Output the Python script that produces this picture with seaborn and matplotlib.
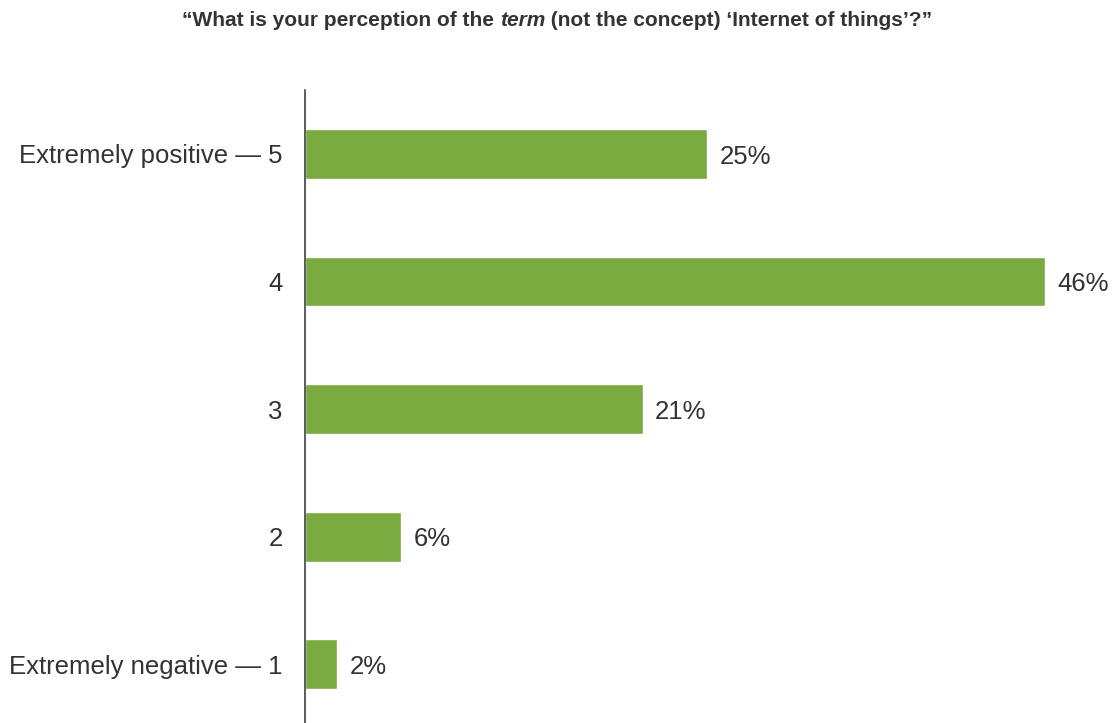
import matplotlib
matplotlib.use("Agg")
import matplotlib.pyplot as plt
import seaborn as sns
import pandas as pd
from matplotlib.offsetbox import TextArea, HPacker, AnchoredOffsetbox

categories = ["Extremely positive — 5", "4", "3", "2", "Extremely negative — 1"]
values = [25, 46, 21, 6, 2]
value_labels = ["25%", "46%", "21%", "6%", "2%"]

sns.set_style("white")
plt.rcParams['font.family'] = ['Liberation Sans', 'DejaVu Sans']

df = pd.DataFrame({"cat": categories, "val": values})

fig = plt.figure(figsize=(11.14, 7.23), dpi=100)
ax = fig.add_axes([305/1114, 0, 1 - 305/1114 - 5/1114, 633/723])
sns.barplot(data=df, y="cat", x="val", orient="h", color="#7AAB41",
            width=0.39, saturation=1, ax=ax, order=categories)
ax.set_xlim(0, 50)
ax.set_ylim(4.46, -0.5)
for s in ["top", "right", "bottom"]:
    ax.spines[s].set_visible(False)
ax.spines["left"].set_color("#404040")
ax.spines["left"].set_linewidth(1.2)
ax.set_xticks([])
ax.set_xlabel("")
ax.set_ylabel("")
ax.tick_params(axis="y", length=0, pad=16, labelsize=18.5, labelcolor="#333333")
for i, (v, lab) in enumerate(zip(values, value_labels)):
    ax.annotate(lab, xy=(v, i), xytext=(9, -2), textcoords="offset points",
                va="center", ha="left", fontsize=18.5, color="#333333")

props = dict(fontsize=15, fontweight="bold", color="#333333")
parts = [TextArea("“What is your perception of the ", textprops=props),
         TextArea("term", textprops=dict(props, fontstyle="italic")),
         TextArea(" (not the concept) ‘Internet of things’?”", textprops=props)]
box = HPacker(children=parts, align="baseline", pad=0, sep=0)
anch = AnchoredOffsetbox(loc="center", child=box, frameon=False,
                         bbox_to_anchor=(557/1114, 1 - 21/723), bbox_transform=fig.transFigure,
                         borderpad=0, pad=0)
fig.add_artist(anch)

fig.savefig("out.png", dpi=100)
